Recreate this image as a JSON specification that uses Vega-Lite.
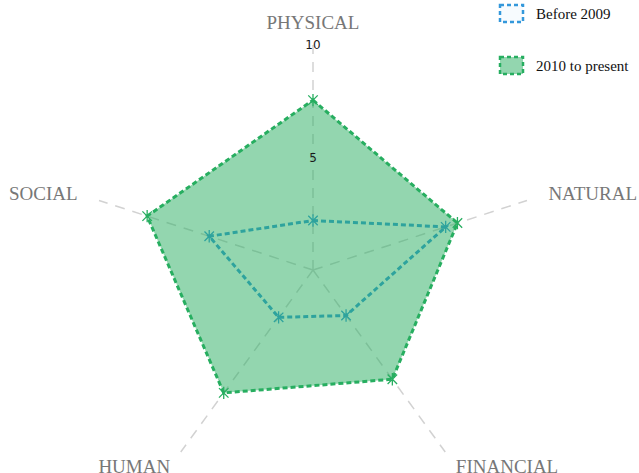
{
  "$schema": "https://vega.github.io/schema/vega-lite/v6.json",
  "width": 639,
  "height": 473,
  "autosize": "none",
  "padding": 0,
  "background": "white",
  "config": {"view": {"stroke": null}},
  "datasets": {
    "axes": [
      {"axis": "PHYSICAL", "idx": 0},
      {"axis": "NATURAL", "idx": 1},
      {"axis": "FINANCIAL", "idx": 2},
      {"axis": "HUMAN", "idx": 3},
      {"axis": "SOCIAL", "idx": 4}
    ],
    "scores": [
      {"axis": "PHYSICAL", "idx": 0, "series": "Before 2009", "value": 2.2},
      {"axis": "NATURAL", "idx": 1, "series": "Before 2009", "value": 6.2},
      {"axis": "FINANCIAL", "idx": 2, "series": "Before 2009", "value": 2.5},
      {"axis": "HUMAN", "idx": 3, "series": "Before 2009", "value": 2.6},
      {"axis": "SOCIAL", "idx": 4, "series": "Before 2009", "value": 4.85},
      {"axis": "PHYSICAL", "idx": 0, "series": "2010 to present", "value": 7.55},
      {"axis": "NATURAL", "idx": 1, "series": "2010 to present", "value": 6.75},
      {"axis": "FINANCIAL", "idx": 2, "series": "2010 to present", "value": 6.0},
      {"axis": "HUMAN", "idx": 3, "series": "2010 to present", "value": 6.75},
      {"axis": "SOCIAL", "idx": 4, "series": "2010 to present", "value": 7.75}
    ],
    "ticks": [{"tick": 5}, {"tick": 10}]
  },
  "layer": [
    {
      "data": {"name": "axes"},
      "transform": [
        {"calculate": "10*sin(datum.idx*2*PI/5)", "as": "sx"},
        {"calculate": "10*cos(datum.idx*2*PI/5)", "as": "sy"},
        {"calculate": "0", "as": "c"}
      ],
      "mark": {"type": "rule", "color": "#d2d2d2", "strokeDash": [10, 8], "strokeWidth": 1.5},
      "encoding": {
        "x": {"field": "c", "type": "quantitative", "scale": {"domain": [-13.911, 14.489], "nice": false, "zero": false}, "axis": null},
        "y": {"field": "c", "type": "quantitative", "scale": {"domain": [-9.022, 12.0], "nice": false, "zero": false}, "axis": null},
        "x2": {"field": "sx"},
        "y2": {"field": "sy"}
      }
    },
    {
      "data": {"name": "scores"},
      "transform": [
        {"filter": "datum.series == 'Before 2009'"},
        {"calculate": "datum.value*sin(datum.idx*2*PI/5)", "as": "px"},
        {"calculate": "datum.value*cos(datum.idx*2*PI/5)", "as": "py"}
      ],
      "mark": {"type": "line", "interpolate": "linear-closed", "strokeDash": [5, 3], "strokeWidth": 3, "stroke": "#3498db"},
      "encoding": {
        "x": {"field": "px", "type": "quantitative", "axis": null},
        "y": {"field": "py", "type": "quantitative", "axis": null},
        "order": {"field": "idx", "type": "quantitative"}
      }
    },
    {
      "data": {"name": "scores"},
      "transform": [
        {"filter": "datum.series == 'Before 2009'"},
        {"calculate": "datum.value*sin(datum.idx*2*PI/5)", "as": "px"},
        {"calculate": "datum.value*cos(datum.idx*2*PI/5)", "as": "py"}
      ],
      "mark": {"type": "point", "shape": "M-1,-1L1,1M-1,1L1,-1M0,-1.3L0,1.3", "filled": false, "stroke": "#3498db", "strokeWidth": 1.3, "size": 90, "opacity": 1},
      "encoding": {
        "x": {"field": "px", "type": "quantitative", "axis": null},
        "y": {"field": "py", "type": "quantitative", "axis": null}
      }
    },
    {
      "data": {"name": "scores"},
      "transform": [
        {"filter": "datum.series == '2010 to present'"},
        {"calculate": "datum.value*sin(datum.idx*2*PI/5)", "as": "px"},
        {"calculate": "datum.value*cos(datum.idx*2*PI/5)", "as": "py"}
      ],
      "mark": {"type": "line", "interpolate": "linear-closed", "strokeDash": [5, 3], "strokeWidth": 3},
      "encoding": {
        "x": {"field": "px", "type": "quantitative", "axis": null},
        "y": {"field": "py", "type": "quantitative", "axis": null},
        "order": {"field": "idx", "type": "quantitative"},
        "stroke": {
          "field": "series", "type": "nominal",
          "scale": {"domain": ["Before 2009", "2010 to present"], "range": ["#3498db", "#27ae60"]},
          "legend": {"title": null, "orient": "none", "legendX": 500, "legendY": 2, "padding": 0,
            "symbolType": "M-1.15,-0.85H1.15V0.85H-1.15Z", "symbolSize": 400, "symbolDash": [4, 3], "symbolStrokeWidth": 2.5,
            "labelFont": "Liberation Serif", "labelFontSize": 15, "labelColor": "#111", "labelOffset": 13, "rowPadding": 25}
        },
        "fill": {
          "field": "series", "type": "nominal",
          "scale": {"domain": ["Before 2009", "2010 to present"], "range": ["rgba(52,152,219,0.04)", "rgba(39,174,96,0.5)"]},
          "legend": {"title": null, "orient": "none", "legendX": 500, "legendY": 2, "padding": 0,
            "symbolType": "M-1.15,-0.85H1.15V0.85H-1.15Z", "symbolSize": 400, "symbolDash": [4, 3], "symbolStrokeWidth": 2.5,
            "labelFont": "Liberation Serif", "labelFontSize": 15, "labelColor": "#111", "labelOffset": 13, "rowPadding": 25}
        }
      }
    },
    {
      "data": {"name": "scores"},
      "transform": [
        {"filter": "datum.series == '2010 to present'"},
        {"calculate": "datum.value*sin(datum.idx*2*PI/5)", "as": "px"},
        {"calculate": "datum.value*cos(datum.idx*2*PI/5)", "as": "py"}
      ],
      "mark": {"type": "point", "shape": "M-1,-1L1,1M-1,1L1,-1M0,-1.3L0,1.3", "filled": false, "stroke": "#27ae60", "strokeWidth": 1.3, "size": 90, "opacity": 1},
      "encoding": {
        "x": {"field": "px", "type": "quantitative", "axis": null},
        "y": {"field": "py", "type": "quantitative", "axis": null}
      }
    },
    {
      "data": {"name": "ticks"},
      "transform": [{"calculate": "0", "as": "c"}],
      "mark": {"type": "text", "font": "DejaVu Sans", "fontSize": 12, "color": "#1a1a1a", "align": "center", "baseline": "middle"},
      "encoding": {
        "x": {"field": "c", "type": "quantitative"},
        "y": {"field": "tick", "type": "quantitative"},
        "text": {"field": "tick", "type": "quantitative"}
      }
    },
    {
      "data": {"name": "axes"},
      "transform": [
        {"filter": "datum.idx == 0"},
        {"calculate": "11*sin(datum.idx*2*PI/5)", "as": "lx"},
        {"calculate": "11*cos(datum.idx*2*PI/5)", "as": "ly"}
      ],
      "mark": {"type": "text", "font": "Liberation Serif", "fontSize": 19, "color": "#777", "align": "center", "baseline": "middle"},
      "encoding": {
        "x": {"field": "lx", "type": "quantitative"},
        "y": {"field": "ly", "type": "quantitative"},
        "text": {"field": "axis", "type": "nominal"}
      }
    },
    {
      "data": {"name": "axes"},
      "transform": [
        {"filter": "datum.idx == 1 || datum.idx == 2"},
        {"calculate": "(datum.idx == 2 ? 10.8 : 11)*sin(datum.idx*2*PI/5)", "as": "lx"},
        {"calculate": "(datum.idx == 2 ? 10.8 : 11)*cos(datum.idx*2*PI/5)", "as": "ly"}
      ],
      "mark": {"type": "text", "font": "Liberation Serif", "fontSize": 19, "color": "#777", "align": "left", "baseline": "middle"},
      "encoding": {
        "x": {"field": "lx", "type": "quantitative"},
        "y": {"field": "ly", "type": "quantitative"},
        "text": {"field": "axis", "type": "nominal"}
      }
    },
    {
      "data": {"name": "axes"},
      "transform": [
        {"filter": "datum.idx == 3 || datum.idx == 4"},
        {"calculate": "(datum.idx == 3 ? 10.8 : 11)*sin(datum.idx*2*PI/5)", "as": "lx"},
        {"calculate": "(datum.idx == 3 ? 10.8 : 11)*cos(datum.idx*2*PI/5)", "as": "ly"}
      ],
      "mark": {"type": "text", "font": "Liberation Serif", "fontSize": 19, "color": "#777", "align": "right", "baseline": "middle"},
      "encoding": {
        "x": {"field": "lx", "type": "quantitative"},
        "y": {"field": "ly", "type": "quantitative"},
        "text": {"field": "axis", "type": "nominal"}
      }
    }
  ]
}
